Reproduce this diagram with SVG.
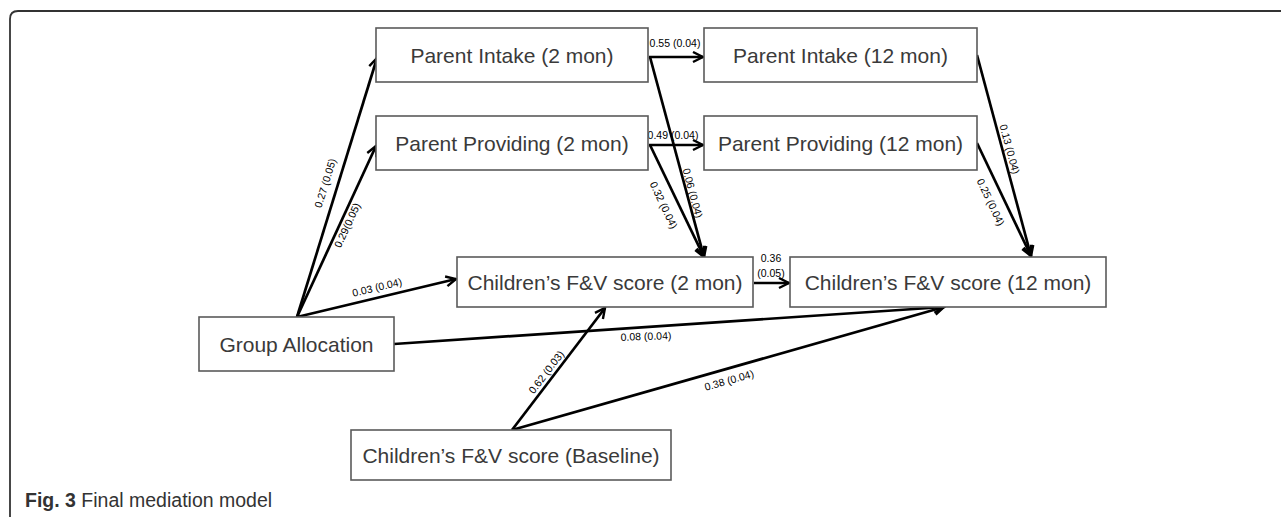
<svg xmlns="http://www.w3.org/2000/svg" width="1281" height="523" viewBox="0 0 1281 523">
<style>
.box{fill:#fff;stroke:#5a5a5a;stroke-width:1.6}
.nt{font-family:"Liberation Sans",Arial,sans-serif;font-size:21px;fill:#3a3a3a;text-anchor:middle}
.edge{stroke:#000;stroke-width:2.7;fill:none;marker-end:url(#arr)}
.lbl{font-family:"Liberation Sans",Arial,sans-serif;font-size:10.5px;fill:#000;text-anchor:middle;dominant-baseline:central}
.cap{font-family:"Liberation Sans",Arial,sans-serif;font-size:19.5px;fill:#333}
</style>
<defs>
<marker id="arr" markerUnits="userSpaceOnUse" viewBox="0 0 13 13" markerWidth="13" markerHeight="13" refX="11.5" refY="6.5" orient="auto">
<path d="M1.5,1.5 L11.5,6.5 L1.5,11.5" fill="none" stroke="#000" stroke-width="2.4"/>
</marker>
</defs>
<rect width="1281" height="523" fill="#fff"/>
<path d="M10,517 L10,19 Q10,11 18,11 L1281,11" fill="none" stroke="#333" stroke-width="1.8"/>
<text class="cap" x="25" y="507"><tspan font-weight="bold">Fig. 3</tspan> Final mediation model</text>

<g id="connectors">
<line class="edge" x1="297" y1="317" x2="377" y2="58"/>
<line class="edge" x1="297" y1="317" x2="376" y2="146"/>
<line class="edge" x1="297" y1="317" x2="456" y2="279"/>
<line class="edge" x1="394" y1="344" x2="944" y2="307"/>
<line class="edge" x1="512" y1="430" x2="605" y2="308"/>
<line class="edge" x1="512" y1="430" x2="944" y2="307"/>
<line class="edge" x1="649" y1="57" x2="703" y2="57"/>
<line class="edge" x1="649" y1="145" x2="703" y2="145"/>
<line class="edge" x1="650" y1="57" x2="704" y2="257"/>
<line class="edge" x1="650" y1="145" x2="704" y2="257"/>
<line class="edge" x1="977" y1="55" x2="1031" y2="256"/>
<line class="edge" x1="977" y1="143" x2="1031" y2="256"/>
<line class="edge" x1="754" y1="283" x2="789" y2="283"/>
<text class="lbl" transform="translate(325,183) rotate(-72.8)">0.27 (0.05)</text>
<text class="lbl" transform="translate(347,225) rotate(-65.2)">0.29(0.05)</text>
<text class="lbl" transform="translate(377,287) rotate(-13.4)">0.03 (0.04)</text>
<text class="lbl" transform="translate(646,336) rotate(-2)">0.08 (0.04)</text>
<text class="lbl" transform="translate(546,372) rotate(-52.7)">0.62 (0.03)</text>
<text class="lbl" transform="translate(729,380) rotate(-15.9)">0.38 (0.04)</text>
<text class="lbl" x="675" y="43">0.55 (0.04)</text>
<text class="lbl" x="673" y="135">0.49 (0.04)</text>
<text class="lbl" transform="translate(693,193) rotate(75)">0.06 (0.04)</text>
<text class="lbl" transform="translate(664,205) rotate(64.5)">0.32 (0.04)</text>
<text class="lbl" transform="translate(1010,149) rotate(75)">0.13 (0.04)</text>
<text class="lbl" transform="translate(991,202) rotate(64.7)">0.25 (0.04)</text>
<text class="lbl" x="771" y="258">0.36</text>
<text class="lbl" x="771" y="273">(0.05)</text>
</g>

<g id="parent-intake-2">
<rect class="box" x="376" y="28" width="272" height="54"/>
<text class="nt" x="512" y="62.5">Parent Intake (2 mon)</text>
</g>
<g id="parent-providing-2">
<rect class="box" x="376" y="116" width="272" height="54"/>
<text class="nt" x="512" y="150.5">Parent Providing (2 mon)</text>
</g>
<g id="parent-intake-12">
<rect class="box" x="704" y="28" width="273" height="54"/>
<text class="nt" x="840.5" y="62.5">Parent Intake (12 mon)</text>
</g>
<g id="parent-providing-12">
<rect class="box" x="704" y="116" width="273" height="54"/>
<text class="nt" x="840.5" y="150.5">Parent Providing (12 mon)</text>
</g>
<g id="children-2">
<rect class="box" x="457" y="257" width="296" height="50"/>
<text class="nt" x="605" y="289.5">Children’s F&amp;V score (2 mon)</text>
</g>
<g id="children-12">
<rect class="box" x="790" y="257" width="316" height="50"/>
<text class="nt" x="948" y="289.5">Children’s F&amp;V score (12 mon)</text>
</g>
<g id="group-allocation">
<rect class="box" x="199" y="317" width="195" height="54"/>
<text class="nt" x="296.5" y="351.5">Group Allocation</text>
</g>
<g id="children-baseline">
<rect class="box" x="351" y="430" width="320" height="50"/>
<text class="nt" x="511" y="462.5">Children’s F&amp;V score (Baseline)</text>
</g>
</svg>
